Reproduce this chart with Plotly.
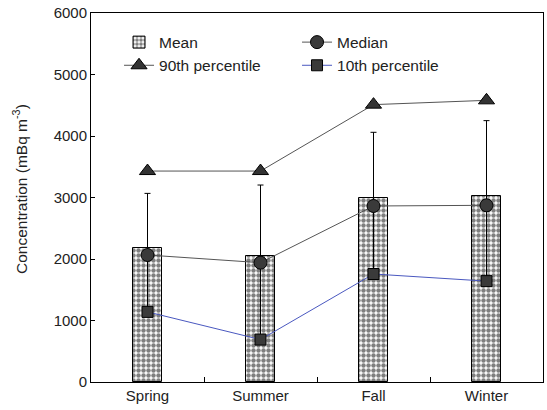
import plotly.graph_objects as go

seasons = ["Spring", "Summer", "Fall", "Winter"]
mean_vals = [2180, 2050, 3000, 3020]
median_vals = [2065, 1940, 2862, 2873]
p90_vals = [3430, 3430, 4510, 4580]
p10_vals = [1140, 690, 1756, 1640]
err_top = [3067, 3203, 4060, 4250]

err_plus = [t - p for t, p in zip(err_top, p10_vals)]

FONT = "Liberation Sans, Arial, sans-serif"

fig = go.Figure()
fig.add_trace(go.Bar(
    x=seasons, y=mean_vals, name="Mean", width=0.26,
    marker=dict(color="white", line=dict(color="black", width=1),
                pattern=dict(shape=".", fgcolor="black", bgcolor="white",
                             size=5, solidity=0.62, fillmode="overlay")),
    legendrank=1,
))
fig.add_trace(go.Scatter(
    x=seasons, y=p10_vals, name="10th percentile", mode="lines+markers",
    line=dict(color="#4a58c0", width=1),
    marker=dict(symbol="square", size=11, color="#3a3a3a",
                line=dict(color="black", width=1)),
    error_y=dict(type="data", symmetric=False, array=err_plus,
                 arrayminus=[0] * len(p10_vals), color="black",
                 thickness=1, width=3),
    legendrank=4,
))
fig.add_trace(go.Scatter(
    x=seasons, y=p90_vals, name="90th percentile", mode="lines+markers",
    line=dict(color="#555555", width=1),
    marker=dict(symbol="triangle-up", size=14, color="#333333",
                line=dict(color="black", width=1)),
    legendrank=3,
))
fig.add_trace(go.Scatter(
    x=seasons, y=median_vals, name="Median", mode="lines+markers",
    line=dict(color="#555555", width=1),
    marker=dict(symbol="circle", size=13, color="#3a3a3a",
                line=dict(color="black", width=1)),
    legendrank=2,
))

fig.update_layout(
    width=547, height=410,
    margin=dict(l=91, r=4, t=13, b=28),
    plot_bgcolor="white", paper_bgcolor="white",
    font=dict(family=FONT, size=15, color="#222222"),
    showlegend=True,
    legend=dict(orientation="h", x=0.062, y=0.966, xanchor="left", yanchor="top",
                entrywidth=133, entrywidthmode="pixels",
                bgcolor="rgba(0,0,0,0)", font=dict(size=15.5),
                tracegroupgap=0),
    bargap=0,
    annotations=[dict(
        text="Concentration (mBq m<sup>-3</sup>)", textangle=-90,
        xref="paper", yref="paper", x=-0.157, y=0.523,
        xanchor="center", yanchor="middle", showarrow=False,
        font=dict(size=15.5, color="#222222"),
    )],
)
fig.update_xaxes(
    showline=True, linecolor="black", linewidth=1, mirror=True,
    ticks="inside", ticklen=5, tickcolor="black", tickson="boundaries",
    range=[-0.5, 3.5], showgrid=False,
    tickfont=dict(size=15),
)
fig.update_yaxes(
    showline=True, linecolor="black", linewidth=1, mirror=True,
    ticks="inside", ticklen=4, tickcolor="black",
    range=[0, 6000], dtick=1000, showgrid=False, zeroline=False,
    tickfont=dict(size=15),
)
fig.write_html("out.html")
